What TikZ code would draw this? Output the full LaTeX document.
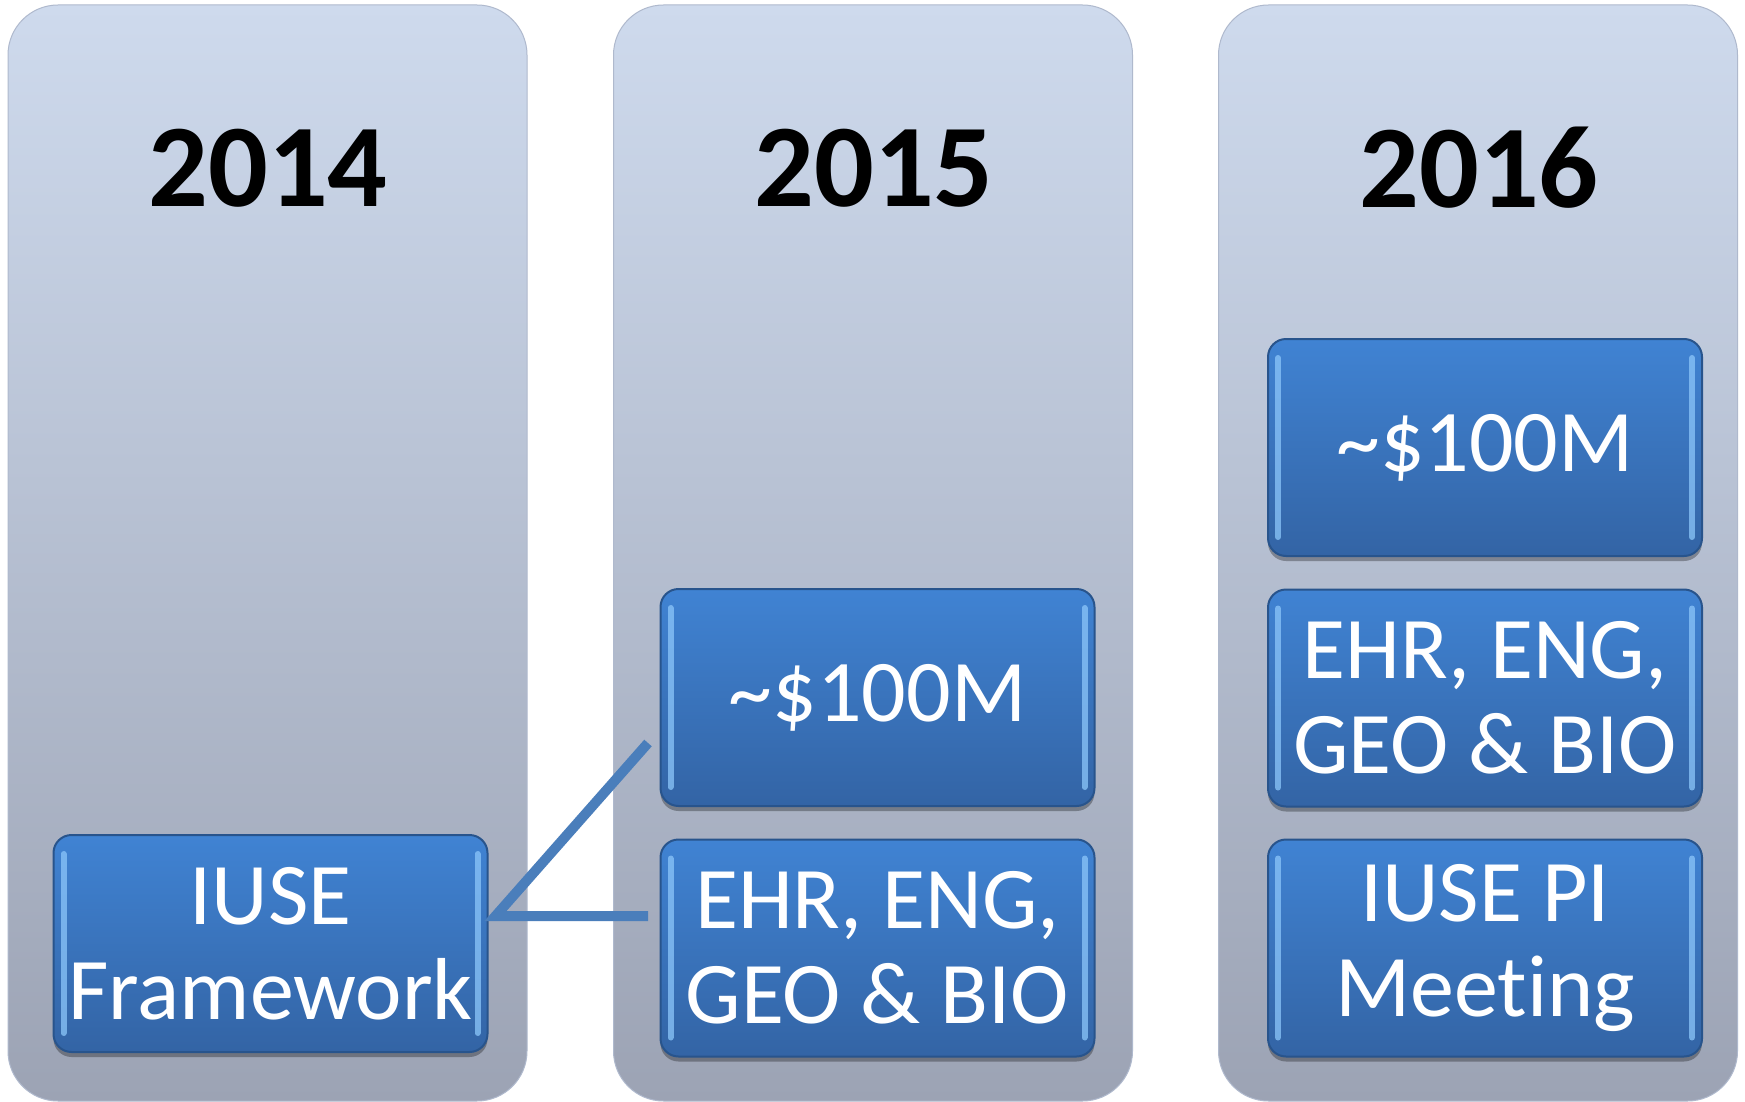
\documentclass[tikz,border=0pt]{standalone}
\usepackage{fontspec}
\setmainfont{Carlito}[Ligatures={NoCommon,NoContextual}, RawFeature={-liga;-clig;-calt}]
\usetikzlibrary{shadows}

\definecolor{coltop}{RGB}{206,218,237}
\definecolor{colbot}{RGB}{156,163,180}
\definecolor{coledge}{RGB}{175,185,205}
\definecolor{boxtop}{RGB}{64,131,211}
\definecolor{boxbot}{RGB}{51,100,165}
\definecolor{boxline}{RGB}{40,84,140}
\definecolor{boxshine}{RGB}{140,198,250}
\definecolor{linkblue}{RGB}{74,126,187}

\tikzset{
  yearcol/.style={rounded corners=50pt, top color=coltop, bottom color=colbot,
    draw=coledge, line width=1pt, minimum width=519pt, minimum height=1096pt,
    inner sep=0pt},
  yearlabel/.style={font=\fontsize{118}{118}\selectfont\bfseries, text=black},
  itembox/.style={rounded corners=18pt, top color=boxtop, bottom color=boxbot,
    draw=boxline, line width=2pt, minimum width=434pt, minimum height=217pt,
    inner sep=0pt, align=center, text=white,
    font=\fontsize{88}{95}\selectfont,
    drop shadow={shadow xshift=0pt, shadow yshift=-5pt, opacity=0.3, fill=black}},
  shine/.style={draw=boxshine, line width=6pt, line cap=round, opacity=0.75},
  link/.style={draw=linkblue, line width=10pt, line join=miter}
}

\newcommand{\boxshine}[1]{%
  \draw[shine] ([xshift=11pt,yshift=-20pt]#1.north west) -- ([xshift=11pt,yshift=20pt]#1.south west);
  \draw[shine] ([xshift=-11pt,yshift=-20pt]#1.north east) -- ([xshift=-11pt,yshift=20pt]#1.south east);
}

\begin{document}
\begin{tikzpicture}[x=1pt, y=-1pt]
\useasboundingbox (0,0) rectangle (1745,1102);
\clip (0,0) rectangle (1745,1102);
\fill[white] (0,0) rectangle (1745,1102);

% year columns
\node[yearcol] (c1) at (267.5,553) {};
\node[yearcol] (c2) at (873,553) {};
\node[yearcol] (c3) at (1478,553) {};

\node[yearlabel] (y1) at (268,168) {2014};
\node[yearlabel] (y2) at (874,168) {2015};
\node[yearlabel] (y3) at (1479,168) {2016};

% items
\node[itembox] (iuse) at (270.5,943.5) {IUSE\\Framework};
\node[itembox] (fund15) at (877.5,697.5) {\textasciitilde\$100M};
\node[itembox] (dir15) at (877.5,948) {EHR, ENG,\\GEO \& BIO};
\node[itembox] (fund16) at (1485,447.5) {\textasciitilde\$100M};
\node[itembox] (dir16) at (1485,698) {EHR, ENG,\\GEO \& BIO};
\node[itembox] (pi16) at (1485,948) {IUSE PI\\Meeting};

\foreach \b in {iuse,fund15,dir15,fund16,dir16,pi16}{\boxshine{\b}}

% links from the framework to the 2015 items
\coordinate (fork) at ([xshift=7pt]iuse.east);
\coordinate (toFund) at (648,743);
\coordinate (toDir) at (648,916);
\draw[link] (toFund) -- (fork |- toDir) -- (toDir);
\end{tikzpicture}
\end{document}
